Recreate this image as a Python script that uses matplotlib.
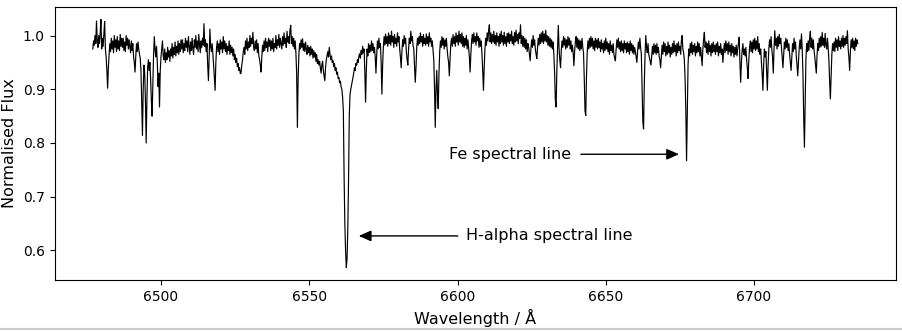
import numpy as np
import matplotlib
matplotlib.use("Agg")
import matplotlib.pyplot as plt
from matplotlib.lines import Line2D

start_wl = 6477.0
step_wl = 0.25
flux = [
    # 6477
    0.975, 0.990, 0.982, 1.000, 0.985, 1.027, 0.990, 0.978, 1.000, 0.985,
    1.005, 1.030, 0.975, 0.995, 0.980, 1.005, 1.026, 0.975, 0.960, 0.935,
    0.902, 0.940, 0.965, 0.985, 0.970, 0.995, 0.975, 0.990, 0.968, 1.000,
    0.978, 0.992, 0.970, 0.998, 0.975, 0.990, 0.972, 1.002, 0.980, 0.995,
    # 6487
    0.978, 0.995, 0.972, 0.988, 0.970, 1.000, 0.982, 0.995, 0.975, 0.992,
    0.980, 0.968, 0.990, 0.972, 0.985, 0.960, 0.950, 0.932, 0.962, 0.985,
    0.970, 0.988, 0.975, 0.965, 0.958, 0.935, 0.870, 0.814, 0.900, 0.945,
    0.930, 0.880, 0.800, 0.880, 0.940, 0.955, 0.935, 0.950, 0.920, 0.880,
    # 6497
    0.850, 0.910, 0.965, 0.998, 0.975, 0.960, 0.980, 0.950, 0.905, 0.930,
    0.867, 0.935, 0.960, 0.975, 0.990, 0.962, 0.955, 0.975, 0.950, 0.968,
    0.955, 0.978, 0.960, 0.972, 0.952, 0.975, 0.962, 0.985, 0.958, 0.978,
    0.965, 0.988, 0.962, 0.980, 0.968, 0.990, 0.965, 0.985, 0.970, 0.992,
    # 6507
    0.975, 0.992, 0.968, 0.985, 0.972, 0.995, 0.978, 0.990, 0.970, 0.998,
    0.980, 0.965, 0.988, 0.972, 0.995, 0.975, 0.965, 0.992, 0.978, 1.000,
    0.975, 0.990, 0.970, 1.002, 0.982, 0.968, 0.990, 0.978, 0.995, 0.982,
    1.022, 0.980, 0.992, 0.970, 0.985, 0.945, 0.916, 0.960, 1.012, 0.980,
    # 6517
    0.970, 0.985, 0.965, 0.945, 0.920, 0.898, 0.950, 0.978, 0.990, 0.970,
    0.985, 0.965, 0.992, 0.975, 0.988, 0.968, 0.998, 0.975, 0.990, 0.970,
    0.985, 0.965, 0.980, 0.972, 0.990, 0.965, 0.982, 0.968, 0.978, 0.962,
    0.975, 0.955, 0.965, 0.950, 0.958, 0.942, 0.948, 0.935, 0.940, 0.929,
    # 6527
    0.930, 0.945, 0.955, 0.970, 0.978, 0.965, 0.990, 0.975, 0.995, 0.972,
    0.988, 0.978, 1.000, 0.980, 0.995, 0.985, 1.006, 0.978, 0.972, 0.990,
    0.975, 0.992, 0.968, 0.985, 0.962, 0.955, 0.945, 0.932, 0.960, 0.982,
    0.970, 0.990, 0.972, 0.995, 0.978, 0.988, 0.970, 0.995, 0.980, 0.992,
    # 6537
    0.972, 0.990, 0.975, 0.995, 0.970, 0.985, 0.978, 1.000, 0.975, 0.992,
    0.982, 1.002, 0.978, 0.995, 0.985, 0.975, 0.998, 0.982, 1.005, 0.985,
    0.995, 0.978, 1.008, 0.988, 0.998, 0.985, 1.010, 1.019, 0.985, 0.998,
    0.980, 0.995, 0.975, 0.990, 0.968, 0.930, 0.829, 0.920, 0.965, 0.985,
    # 6547
    0.975, 0.992, 0.978, 0.994, 0.972, 0.985, 0.970, 0.988, 0.975, 0.965,
    0.982, 0.968, 0.978, 0.962, 0.980, 0.965, 0.975, 0.958, 0.972, 0.960,
    0.968, 0.952, 0.965, 0.948, 0.955, 0.945, 0.952, 0.940, 0.930, 0.945,
    0.952, 0.935, 0.925, 0.916, 0.940, 0.955, 0.962, 0.970, 0.960, 0.978,
    # 6557 (H-alpha)
    0.965, 0.955, 0.962, 0.950, 0.953, 0.942, 0.948, 0.935, 0.940, 0.928,
    0.932, 0.920, 0.922, 0.912, 0.915, 0.904, 0.900, 0.885, 0.860, 0.740,
    0.650, 0.600, 0.568, 0.585, 0.640, 0.730, 0.850, 0.890, 0.900, 0.907,
    0.915, 0.922, 0.930, 0.940, 0.935, 0.948, 0.945, 0.955, 0.950, 0.962,
    # 6567
    0.966, 0.958, 0.972, 0.965, 0.980, 0.968, 0.975, 0.930, 0.876, 0.935,
    0.975, 0.962, 0.985, 0.968, 0.982, 0.970, 0.990, 0.972, 0.985, 0.968,
    0.978, 0.960, 0.930, 0.965, 0.990, 0.975, 0.995, 0.978, 0.985, 0.950,
    0.891, 0.945, 0.980, 0.998, 0.982, 1.003, 0.985, 0.998, 0.980, 1.005,
    # 6577
    0.985, 1.000, 0.982, 1.008, 0.988, 0.998, 0.978, 1.002, 0.985, 0.995,
    0.980, 1.005, 0.988, 0.998, 0.975, 0.960, 0.940, 0.970, 0.992, 0.980,
    1.000, 0.985, 0.995, 0.970, 0.955, 0.945, 0.975, 0.995, 0.985, 1.008,
    0.990, 0.998, 0.982, 0.975, 0.945, 0.913, 0.940, 0.978, 0.995, 0.982,
    # 6587
    0.998, 0.985, 1.005, 0.988, 0.998, 0.980, 1.002, 0.985, 0.995, 0.982,
    1.003, 0.985, 0.998, 0.980, 1.005, 0.988, 0.995, 0.980, 0.990, 0.972,
    0.955, 0.900, 0.829, 0.900, 0.935, 0.890, 0.864, 0.930, 0.970, 0.990,
    0.978, 0.998, 0.982, 0.995, 0.975, 0.992, 0.980, 0.995, 0.975, 0.960,
    # 6597
    0.950, 0.925, 0.958, 0.985, 0.995, 0.980, 1.002, 0.985, 0.998, 0.980,
    1.005, 0.988, 1.000, 0.982, 1.008, 0.988, 1.002, 0.985, 1.005, 0.980,
    0.998, 0.978, 0.995, 0.982, 1.000, 0.975, 0.992, 0.978, 0.960, 0.932,
    0.965, 0.990, 1.002, 0.985, 1.005, 0.988, 0.998, 0.982, 1.005, 0.990,
    # 6607
    0.998, 0.978, 0.995, 0.980, 0.990, 0.965, 0.935, 0.898, 0.940, 0.975,
    0.995, 0.982, 1.005, 0.990, 1.010, 1.020, 0.988, 1.005, 0.985, 1.002,
    0.988, 1.008, 0.985, 1.000, 0.982, 1.005, 0.988, 0.998, 0.980, 1.003,
    0.985, 1.008, 0.988, 1.000, 0.982, 1.006, 0.985, 0.998, 0.980, 1.004,
    # 6617
    0.988, 1.005, 0.985, 1.002, 0.990, 1.008, 0.985, 0.998, 0.982, 1.006,
    0.988, 1.010, 0.990, 1.002, 0.985, 1.005, 0.995, 1.020, 0.985, 1.000,
    0.980, 0.998, 0.978, 0.995, 0.975, 0.992, 0.970, 0.985, 0.978, 0.965,
    0.953, 0.975, 0.992, 0.978, 1.000, 0.982, 0.992, 0.975, 0.965, 0.957,
    # 6627
    0.978, 0.995, 0.982, 1.002, 0.985, 1.005, 0.988, 1.008, 0.985, 1.003,
    0.990, 1.010, 0.988, 1.000, 0.982, 0.998, 0.980, 0.995, 0.978, 0.992,
    0.975, 0.988, 0.965, 0.930, 0.880, 0.867, 0.935, 0.975, 1.019, 0.975,
    0.955, 0.940, 0.972, 0.990, 0.978, 0.998, 0.982, 0.995, 0.975, 0.992,
    # 6637
    0.978, 0.998, 0.982, 0.995, 0.975, 0.990, 0.970, 0.982, 0.968, 0.944,
    0.970, 0.988, 0.998, 0.978, 0.995, 0.975, 0.992, 0.972, 0.990, 0.975,
    0.995, 0.978, 0.968, 0.920, 0.860, 0.851, 0.925, 0.970, 0.990, 0.975,
    0.995, 0.978, 0.998, 0.980, 0.995, 0.975, 0.990, 0.972, 0.995, 0.978,
    # 6647
    0.992, 0.975, 0.995, 0.978, 0.988, 0.970, 0.992, 0.975, 0.985, 0.968,
    0.990, 0.972, 0.995, 0.975, 0.988, 0.970, 0.985, 0.965, 0.990, 0.972,
    0.982, 0.968, 0.985, 0.965, 0.958, 0.953, 0.975, 0.992, 0.978, 0.995,
    0.975, 0.988, 0.970, 0.990, 0.972, 0.985, 0.968, 0.990, 0.975, 0.985,
    # 6657
    0.968, 0.988, 0.970, 0.985, 0.965, 0.990, 0.972, 0.985, 0.968, 0.982,
    0.965, 0.978, 0.970, 0.960, 0.950, 0.972, 0.988, 0.975, 0.995, 0.978,
    0.965, 0.900, 0.840, 0.826, 0.910, 0.965, 1.000, 0.978, 0.968, 0.985,
    0.965, 0.958, 0.950, 0.945, 0.962, 0.980, 0.965, 0.985, 0.968, 0.982,
    # 6667
    0.965, 0.985, 0.968, 0.978, 0.962, 0.955, 0.940, 0.962, 0.982, 0.965,
    0.988, 0.970, 0.985, 0.962, 0.980, 0.965, 0.988, 0.968, 0.982, 0.960,
    0.978, 0.965, 0.985, 0.968, 0.990, 0.970, 0.982, 0.962, 0.985, 0.968,
    0.988, 0.972, 0.980, 0.965, 0.990, 1.000, 0.975, 0.968, 0.955, 0.920,
    # 6677 (Fe)
    0.860, 0.767, 0.850, 0.945, 0.975, 0.962, 0.985, 0.968, 0.988, 0.965,
    0.982, 0.970, 0.985, 0.962, 0.980, 0.968, 0.988, 0.970, 0.985, 0.962,
    0.978, 0.960, 0.944, 0.975, 0.992, 1.006, 0.978, 0.988, 0.968, 0.985,
    0.965, 0.990, 0.970, 0.982, 0.962, 0.985, 0.968, 0.988, 0.970, 0.982,
    # 6687
    0.965, 0.985, 0.970, 0.988, 0.962, 0.980, 0.968, 0.985, 0.965, 0.975,
    0.950, 0.970, 0.985, 0.968, 0.990, 0.972, 0.985, 0.965, 0.988, 0.970,
    0.982, 0.962, 0.985, 0.968, 0.980, 0.960, 0.978, 0.965, 0.982, 0.962,
    0.975, 0.985, 0.997, 0.950, 0.913, 0.950, 0.972, 0.985, 0.965, 0.975,
    # 6697
    0.962, 0.978, 0.955, 0.940, 0.920, 0.955, 0.978, 0.990, 0.970, 0.988,
    0.968, 0.992, 0.975, 0.995, 0.972, 0.990, 0.975, 0.998, 0.970, 0.985,
    0.965, 0.975, 0.950, 0.930, 0.898, 0.945, 0.975, 0.960, 0.970, 0.935,
    0.898, 0.945, 0.975, 0.992, 0.978, 0.998, 0.975, 0.960, 0.930, 0.975,
    # 6707
    1.009, 0.982, 0.995, 0.975, 0.998, 0.980, 1.002, 0.985, 0.995, 0.978,
    0.960, 0.940, 0.965, 0.988, 0.975, 0.995, 0.978, 0.992, 0.972, 0.985,
    0.965, 0.950, 0.935, 0.962, 0.985, 0.970, 0.995, 0.975, 0.988, 0.962,
    0.945, 0.925, 0.950, 0.978, 0.992, 0.975, 1.003, 0.975, 0.930, 0.850,
    # 6717
    0.792, 0.880, 0.955, 0.985, 0.970, 0.990, 0.972, 0.995, 1.008, 0.978,
    0.995, 0.975, 0.992, 0.972, 0.960, 0.945, 0.930, 0.962, 0.985, 0.972,
    0.995, 0.978, 0.998, 0.980, 1.006, 0.982, 0.995, 0.978, 1.004, 0.982,
    0.975, 0.995, 0.978, 0.955, 0.915, 0.882, 0.925, 0.965, 0.985, 0.972,
    # 6727
    0.988, 0.970, 0.995, 0.978, 0.992, 0.972, 0.998, 0.980, 0.990, 0.975,
    0.995, 0.980, 1.000, 0.978, 0.995, 0.982, 0.998, 0.985, 1.009, 0.975,
    0.960, 0.935, 0.970, 0.992, 0.978, 0.995, 0.975, 0.990, 0.972, 0.995,
    0.980, 0.992, 0.985,
]
wavelength = start_wl + step_wl * np.arange(len(flux))

fe_label = "Fe spectral line"
ha_label = "H-alpha spectral line"

fig = plt.figure(figsize=(9.03, 3.31), dpi=100)
ax = fig.add_axes([0.0604, 0.154, 0.9319, 0.8248])

ax.plot(wavelength, flux, color="black", lw=0.85)

ax.set_xlabel("Wavelength / Å", fontsize=11.5)
ax.set_ylabel("Normalised Flux", fontsize=11.5)
ax.tick_params(labelsize=10)

# labels with arrows pointing at the two lines
arrow = dict(arrowstyle="-|>,head_length=0.5,head_width=0.22", color="black",
             lw=1.0, shrinkA=0, shrinkB=0, mutation_scale=15)
ax.annotate("", xy=(6674.7, 0.779), xytext=(6641.6, 0.779), arrowprops=arrow)
ax.text(6597.1, 0.779, fe_label, fontsize=11.5, ha="left", va="center")
ax.annotate("", xy=(6566.7, 0.627), xytext=(6600.1, 0.627), arrowprops=arrow)
ax.text(6602.9, 0.627, ha_label, fontsize=11.5, ha="left", va="center")

# thin grey border at the bottom of the image
fig.add_artist(Line2D([0, 1], [0.005, 0.005], transform=fig.transFigure,
                      color="#cccccc", lw=1.5))

fig.savefig("out.png", dpi=100)
